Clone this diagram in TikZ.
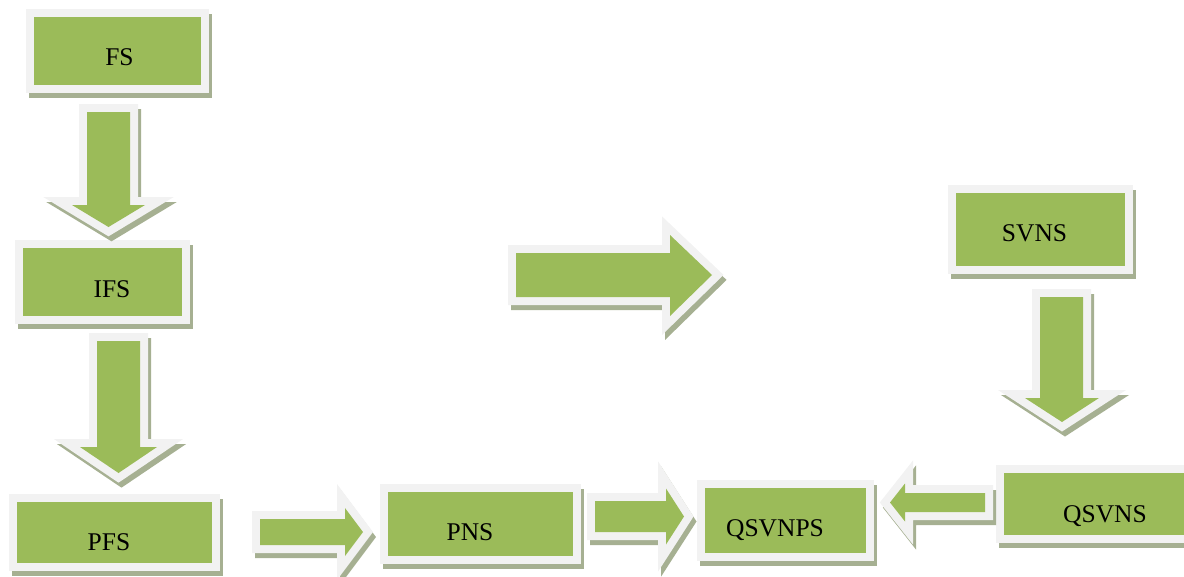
\documentclass[tikz,border=0pt]{standalone}
\usepackage{fontspec}
\setmainfont{Liberation Serif}
\usetikzlibrary{calc}
\definecolor{leaf}{RGB}{155,187,89}
\definecolor{rim}{RGB}{242,242,242}
\definecolor{moss}{RGB}{166,176,146}

\tikzset{
  greenbox/.style={fill=leaf, inner sep=0pt,
    preaction={draw=moss, fill=moss, line width=16pt, transform canvas={shift={(3pt,-5pt)}}},
    preaction={draw=rim, line width=16pt}},
  greenarrow/.style={fill=leaf, line join=miter,
    preaction={draw=moss, fill=moss, line width=16pt, transform canvas={shift={(3pt,-5pt)}}},
    preaction={draw=rim, line width=16pt}},
  boxtext/.style={font=\fontsize{25.5}{30}\selectfont, inner sep=0pt, text height=16.9pt, text depth=0pt},
}

\begin{document}
\begin{tikzpicture}[x=1pt, y=-1pt]
    \useasboundingbox (0,0) rectangle (1184,576);
    \clip (0,0) rectangle (1184,576);
    % boxes
    \node[greenbox, minimum width=167, minimum height=68] (fs)     at (117.5,51)    {};
    \node[greenbox, minimum width=159, minimum height=68] (ifs)    at (102.5,282)   {};
    \node[greenbox, minimum width=195, minimum height=61] (pfs)    at (114.5,532.5) {};
    \node[greenbox, minimum width=185, minimum height=64] (pns)    at (480.5,524)   {};
    \node[greenbox, minimum width=161, minimum height=65] (qsvnps) at (785.5,520.5) {};
    \node[greenbox, minimum width=196, minimum height=62] (qsvns)  at (1102,504)    {};
    \node[greenbox, minimum width=169, minimum height=73] (svns)   at (1040.5,229.5){};
    % labels
    \node[boxtext] (fs-t)     at ([shift={(2,6)}]fs.center)       {FS};
    \node[boxtext] (ifs-t)    at ([shift={(9.5,7.5)}]ifs.center)  {IFS};
    \node[boxtext] (pfs-t)    at ([shift={(-5.5,10)}]pfs.center)  {PFS};
    \node[boxtext] (pns-t)    at ([shift={(-10.5,8)}]pns.center)  {PNS};
    \node[boxtext] (qsvnps-t) at ([shift={(-10.5,7.5)}]qsvnps.center) {QSVNPS};
    \node[boxtext] (qsvns-t)  at ([shift={(3,10)}]qsvns.center)   {QSVNS};
    \node[boxtext] (svns-t)   at ([shift={(-6,4)}]svns.center)    {SVNS};
    % block arrows
    \path[greenarrow] (87,112) -- (130,112) -- (130,205) -- (145,205) -- (108.5,227) -- (72,205) -- (87,205) -- cycle;
    \path[greenarrow] (97,341) -- (140,341) -- (140,447) -- (157,447) -- (118.5,473) -- (80,447) -- (97,447) -- cycle;
    \path[greenarrow] (1040,297) -- (1083,297) -- (1083,398) -- (1099,398) -- (1062,422) -- (1025,398) -- (1040,398) -- cycle;
    \path[greenarrow] (260,519) -- (345,519) -- (345,508) -- (363,532) -- (345,556) -- (345,545) -- (260,545) -- cycle;
    \path[greenarrow] (595,501) -- (666,501) -- (666,488.5) -- (684,516.5) -- (666,544.5) -- (666,532) -- (595,532) -- cycle;
    \path[greenarrow] (985,493) -- (905,493) -- (905,483.5) -- (890,502.5) -- (905,521.5) -- (905,512) -- (985,512) -- cycle;
    \path[greenarrow] (516,253) -- (670,253) -- (670,235) -- (712,275) -- (670,316) -- (670,297) -- (516,297) -- cycle;
\end{tikzpicture}
\end{document}
